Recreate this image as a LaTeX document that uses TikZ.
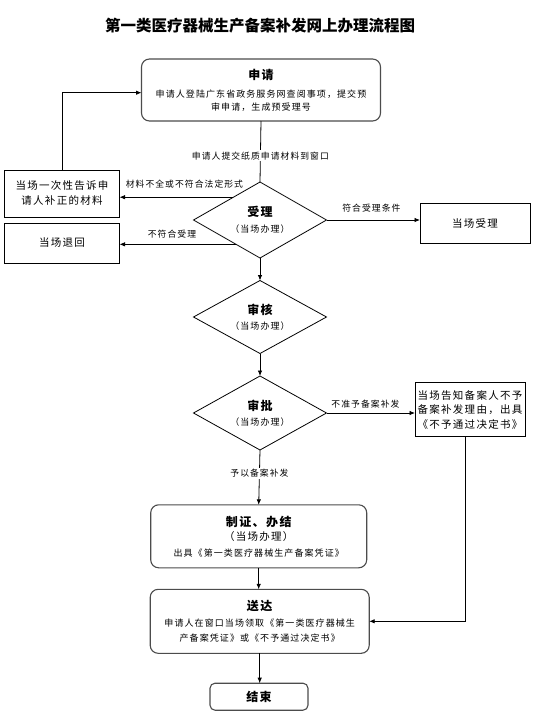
\documentclass[tikz,border=0pt]{standalone}
\usepackage{fontspec}
\setmainfont{Noto Sans CJK SC}
\newfontfamily\cjksp{Noto Sans CJK SC}[LetterSpace=12]
\usetikzlibrary{shapes.geometric,arrows.meta,calc}
\newcommand{\hdtxt}[1]{{\bfseries\fontsize{12}{13}\selectfont #1}}
\tikzset{
  every node/.style={inner sep=0pt, outer sep=0pt},
  conn/.style={line width=0.8pt, draw=black},
  arr/.style={conn, -{Latex[length=5.5pt,width=4.5pt]}},
  rbox/.style={draw=black!70, line width=1.1pt, rounded corners=8pt, align=center,
    font=\cjksp\fontsize{9}{15}\selectfont},
  pbox/.style={draw=black, line width=0.8pt, align=center,
    font=\cjksp\fontsize{10.5}{15}\selectfont},
  dbox/.style={diamond, draw=black, line width=0.8pt, aspect=1.8, align=center,
    minimum width=133pt, minimum height=76pt, font=\cjksp\fontsize{9}{15.5}\selectfont},
  lbl/.style={font=\cjksp\fontsize{8.8}{10}\selectfont},
  lblw/.style={lbl, fill=white, inner sep=1.5pt},
}
\begin{document}
\begin{tikzpicture}[x=1pt,y=-1pt]
\useasboundingbox[fill=white] (0,0) rectangle (550,717);

\node[font=\bfseries\fontsize{15.5}{16}\selectfont] (title) at (260,26) {第一类医疗器械生产备案补发网上办理流程图};

\node[rbox, minimum width=239pt, minimum height=62pt] (sq) at (261,90)
  {\hdtxt{申请}\\[3pt]申请人登陆广东省政务服务网查阅事项，提交预\\[-2pt]审申请，生成预受理号};

\node[dbox] (sl) at (260,220) {\hdtxt{受理}\\（当场办理）};
\node[dbox, minimum height=73pt] (sh) at (260,317) {\hdtxt{审核}\\（当场办理）};
\node[dbox, minimum height=74pt] (sp) at (260,413) {\hdtxt{审批}\\（当场办理）};

\node[pbox, minimum width=115pt, minimum height=47pt] (b1) at (62,193.5) {当场一次性告诉申\\请人补正的材料};
\node[pbox, minimum width=115pt, minimum height=40pt] (b2) at (62,243) {当场退回};
\node[pbox, minimum width=110pt, minimum height=40pt] (r1) at (475,223) {当场受理};
\node[pbox, minimum width=110pt, minimum height=54pt, font=\cjksp\fontsize{10.5}{14.5}\selectfont] (r2) at (470,409.7)
  {当场告知备案人不予\\备案补发理由，出具\\《不予通过决定书》};

\node[rbox, minimum width=216pt, minimum height=63pt] (zz) at (258.7,536.3)
  {\hdtxt{制证、办结}\\[-1pt]{\fontsize{10.5}{15}\selectfont（当场办理）}\\[1pt]出具《第一类医疗器械生产备案凭证》};
\node[rbox, minimum width=219pt, minimum height=64pt] (sd) at (259.7,621.3)
  {\hdtxt{送达}\\[1pt]申请人在窗口当场领取《第一类医疗器械生\\产备案凭证》或《不予通过决定书》};
\node[rbox, rounded corners=5pt, minimum width=98pt, minimum height=27pt] (js) at (259,696.7) {\hdtxt{结束}};

% connectors
\draw[conn] (sq.south) -- node[lblw, pos=0.57] {申请人提交纸质申请材料到窗口} (sl.north);
\draw[arr] ($(sl.west)!0.6!(sl.north)$) coordinate (s1)
  -- node[lbl, pos=0.43, above=9pt] {材料不全或不符合法定形式} (s1 -| b1.east);
\draw[arr] ($(sl.west)!0.64!(sl.south)$) coordinate (s2)
  -- node[lbl, pos=0.55, above=6pt] {不符合受理} (s2 -| b2.east);
\draw[arr] (sl.east) -- node[lbl, pos=0.48, above=8pt] {符合受理条件} (sl.east -| r1.west);
\draw[arr] (b1.north) |- ([yshift=-2.7pt]sq.west);
\draw[arr] (sl.south) -- (sh.north);
\draw[arr] (sh.south) -- (sp.north);
\draw[arr] (sp.east) -- node[lbl, pos=0.44, above=5pt] {不准予备案补发} (sp.east -| r2.west);
\draw[arr] (sp.south) -- node[lblw, pos=0.43] {予以备案补发} (zz.north);
\draw[arr] ([xshift=-5pt]r2.south) |- (sd.east);
\draw[arr] (zz.south) -- (zz.south |- sd.north);
\draw[arr] (sd.south) -- (sd.south |- js.north);
\end{tikzpicture}
\end{document}
